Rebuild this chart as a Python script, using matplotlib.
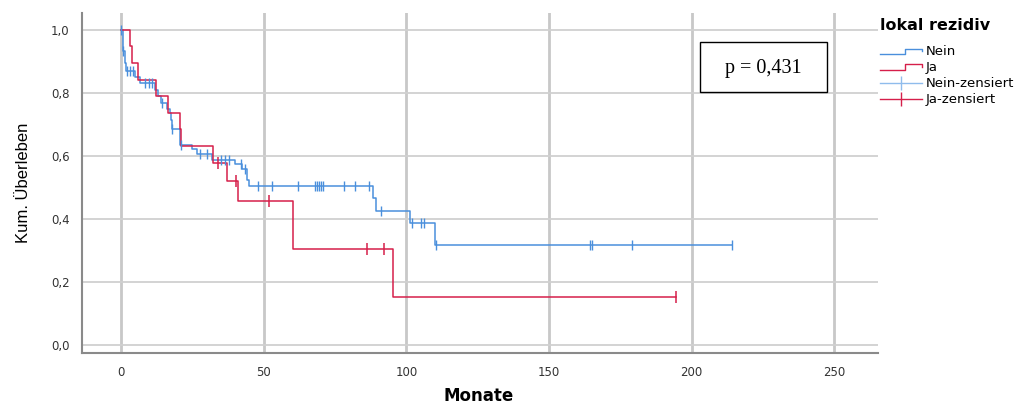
import numpy as np
import matplotlib
matplotlib.use("Agg")
import matplotlib.pyplot as plt
from matplotlib.lines import Line2D
from matplotlib.legend_handler import HandlerBase
from matplotlib.patches import Rectangle

# Kaplan-Meier steps (time in months, cumulative survival)
nein_t = [0, 0.5, 1.2, 1.8, 5, 6.5, 12, 13, 14, 16, 17, 17.5, 18, 20.6, 25, 26.5,
          32, 40, 42.5, 44, 45, 88.4, 89.5, 101.2, 110.2, 214.3]
nein_s = [1.0, 0.933, 0.895, 0.87, 0.85, 0.83, 0.81, 0.79, 0.768, 0.748, 0.735,
          0.714, 0.685, 0.636, 0.621, 0.607, 0.587, 0.574, 0.558, 0.524, 0.504,
          0.466, 0.427, 0.386, 0.318, 0.318]
nein_cens = [0, 0.6, 2, 3.2, 4.1, 8.4, 9.9, 10.8, 14.3, 18, 21, 27.8, 30, 35, 36.5,
             38, 41.9, 43.4, 48, 53, 62, 68, 68.7, 69.4, 70.1, 70.8, 78, 82, 87,
             91, 102, 105, 106.2, 110.3, 164.5, 165.2, 179.2, 214.3]

ja_t = [0, 3.2, 4, 6.1, 12.2, 16.3, 20.7, 21.1, 32.2, 37, 41.1, 60.1, 95.3, 194.4]
ja_s = [1.0, 0.947, 0.895, 0.842, 0.79, 0.737, 0.685, 0.632, 0.579, 0.521, 0.456,
        0.304, 0.152, 0.152]
ja_cens = [34.1, 40.4, 51.9, 86.2, 92.0, 194.4]

group_labels = ["Nein", "Ja", "Nein-zensiert", "Ja-zensiert"]
p_text = "p = 0,431"

blue = "#4a8fdc"
red = "#d61f4a"


def surv_at(times, surv, when):
    # value of the step curve at each censoring time
    idx = np.searchsorted(times, when, side="right") - 1
    return np.array(surv)[idx]


class StepHandler(HandlerBase):
    def create_artists(self, legend, orig_handle, xdescent, ydescent,
                       width, height, fontsize, trans):
        lo = height * 0.2
        hi = height * 0.75
        xs = [0, width * 0.6, width * 0.6, width, width]
        ys = [lo, lo, hi, hi, hi - height * 0.3]
        ln = Line2D(np.array(xs) - xdescent, np.array(ys) - ydescent,
                    color=orig_handle.get_color(), lw=1.0, transform=trans)
        return [ln]


plt.rcParams["font.family"] = ["DejaVu Sans"]

fig = plt.figure(figsize=(10.25, 4.05), dpi=100)
ax = fig.add_axes([0.080, 0.128, 0.777, 0.840])

ax.step(nein_t, nein_s, where="post", color=blue, lw=1.1)
ax.step(ja_t, ja_s, where="post", color=red, lw=1.1)
ax.plot(nein_cens, surv_at(nein_t, nein_s, nein_cens), ls="none", marker="|",
        ms=7, mew=1.0, color=blue)
ax.plot(ja_cens, surv_at(ja_t, ja_s, ja_cens), ls="none", marker="|",
        ms=8, mew=1.1, color=red)

ax.set_xlim(-13.7, 265.5)
ax.set_ylim(-0.025, 1.053)
ax.set_xticks([0, 50, 100, 150, 200, 250])
ax.set_yticks([0.0, 0.2, 0.4, 0.6, 0.8, 1.0])
ax.set_yticklabels(["0,0", "0,2", "0,4", "0,6", "0,8", "1,0"])
ax.tick_params(length=0, labelsize=8.5, colors="#333333", pad=9)

ax.grid(axis="x", color="#c8c8c8", lw=2.0)
ax.grid(axis="y", color="#d0d0d0", lw=1.3)
ax.set_axisbelow(True)
for side in ["top", "right"]:
    ax.spines[side].set_visible(False)
for side in ["left", "bottom"]:
    ax.spines[side].set_color("#8a8a8a")
    ax.spines[side].set_linewidth(1.5)

fig.text(0.467, 0.022, "Monate", fontsize=12, fontweight="bold",
         ha="center", va="center")
ax.set_ylabel("Kum. Überleben", fontsize=12,
              family=["Liberation Sans Narrow", "Liberation Sans"], labelpad=14)

# p-value box
ax.add_patch(Rectangle((0.776, 0.768), 0.1595, 0.147, transform=ax.transAxes,
                       fc="white", ec="black", lw=1.0, zorder=5))
ax.text(0.856, 0.838, p_text, transform=ax.transAxes, fontsize=14.5,
        family=["Liberation Serif", "DejaVu Serif"], ha="center", va="center",
        zorder=6)

handles = [Line2D([], [], color=blue), Line2D([], [], color=red),
           Line2D([], [], color="#8fbcec", marker="|", ms=10, mew=1.0, lw=1.0),
           Line2D([], [], color=red, marker="|", ms=10, mew=1.0, lw=1.0)]
leg = fig.legend(handles, group_labels, title="lokal rezidiv",
                 loc="upper left", bbox_to_anchor=(0.847, 0.985),
                 frameon=False, fontsize=9.5, handlelength=3.2,
                 handletextpad=0.25, labelspacing=0.22,
                 title_fontproperties={"weight": "bold", "size": 11.5},
                 handler_map={handles[0]: StepHandler(), handles[1]: StepHandler()})
leg._legend_box.align = "left"
leg._legend_box.sep = 9

fig.savefig("out.png", dpi=100)
